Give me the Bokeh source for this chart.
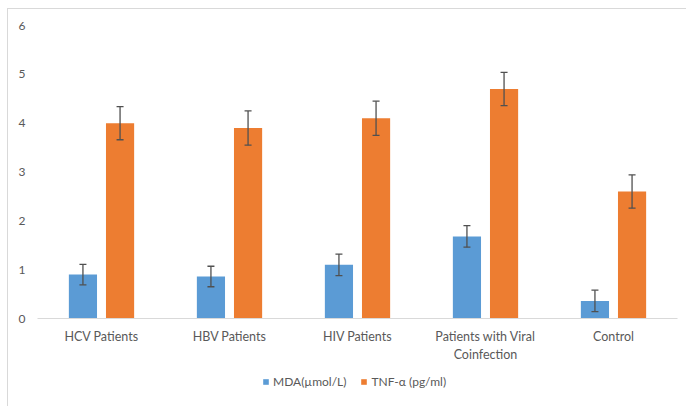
from bokeh.plotting import figure
from bokeh.models import ColumnDataSource, Whisker, Legend, LegendItem, FactorRange, Range1d
from bokeh.layouts import column
from bokeh.transform import dodge
from bokeh.embed import file_html
from bokeh.resources import INLINE

categories = ["HCV Patients", "HBV Patients", "HIV Patients",
              "Patients with Viral\nCoinfection", "Control"]
mda = [0.90, 0.86, 1.10, 1.68, 0.36]
mda_err = [0.21, 0.21, 0.22, 0.22, 0.22]
tnf = [4.00, 3.90, 4.10, 4.70, 2.60]
tnf_err = [0.34, 0.35, 0.35, 0.34, 0.34]
y_ticks = [0, 1, 2, 3, 4, 5, 6]
series_names = ["MDA(µmol/L)", "TNF-α (pg/ml)"]

BLUE = "#5B9BD5"
ORANGE = "#ED7D31"
TXT = "#595959"
FONT = "Lato"

src = ColumnDataSource(dict(
    cat=categories,
    mda=mda, mda_lo=[v - e for v, e in zip(mda, mda_err)], mda_hi=[v + e for v, e in zip(mda, mda_err)],
    tnf=tnf, tnf_lo=[v - e for v, e in zip(tnf, tnf_err)], tnf_hi=[v + e for v, e in zip(tnf, tnf_err)],
))

p = figure(width=678, height=357, x_range=FactorRange(*categories), y_range=(0, 6),
           output_backend="svg", toolbar_location=None,
           min_border_left=29, min_border_right=9, min_border_top=16, min_border_bottom=48)
p.outline_line_color = None
p.xgrid.grid_line_color = None
p.ygrid.grid_line_color = None
p.x_range.range_padding = 0
p.x_range.factor_padding = 0

off = 0.145
w = 0.22
p.vbar(x=dodge("cat", -off, range=p.x_range), top="mda", width=w, source=src,
       fill_color=BLUE, line_color=None)
p.vbar(x=dodge("cat", off, range=p.x_range), top="tnf", width=w, source=src,
       fill_color=ORANGE, line_color=None)

for key, o in (("mda", -off), ("tnf", off)):
    wk = Whisker(base=dodge("cat", o, range=p.x_range), lower=key + "_lo", upper=key + "_hi",
                 source=src, line_color="#505050", line_width=1.3, level="overlay")
    for h in (wk.upper_head, wk.lower_head):
        h.size = 7
        h.line_color = "#505050"
        h.line_width = 1.3
    p.add_layout(wk)

p.yaxis.ticker = y_ticks
p.yaxis.axis_line_color = None
p.yaxis.major_tick_line_color = None
p.yaxis.minor_tick_line_color = None
p.yaxis.major_label_standoff = 6
p.yaxis.major_label_text_color = TXT
p.yaxis.major_label_text_font = FONT
p.yaxis.major_label_text_font_size = "12px"

p.xaxis.axis_line_color = "#d9d9d9"
p.xaxis.major_tick_line_color = None
p.xaxis.minor_tick_line_color = None
p.xaxis.major_label_standoff = 4
p.xaxis.major_label_text_color = TXT
p.xaxis.major_label_text_font = FONT
p.xaxis.major_label_text_font_size = "12.5px"

# legend strip below the chart (hidden swatch renderers only feed the legend)
lf = figure(width=678, height=40, x_range=Range1d(0, 1), y_range=Range1d(0, 1),
            output_backend="svg", toolbar_location=None,
            min_border_left=0, min_border_right=0, min_border_top=0, min_border_bottom=0)
lf.outline_line_color = None
lf.axis.visible = False
lf.grid.visible = False
swatch = ColumnDataSource(dict(x=[0.5], top=[1.0]))
lr1 = lf.vbar(x="x", top="top", width=0.1, source=swatch, fill_color=BLUE, line_color=None)
lr2 = lf.vbar(x="x", top="top", width=0.1, source=swatch, fill_color=ORANGE, line_color=None)
lr1.visible = False
lr2.visible = False
legend = Legend(items=[LegendItem(label=series_names[0], renderers=[lr1]),
                       LegendItem(label=series_names[1], renderers=[lr2])],
                orientation="horizontal", location=(225, 17),
                glyph_width=7, glyph_height=7, label_text_font=FONT,
                label_text_font_size="12px", label_text_color=TXT,
                border_line_color=None, background_fill_alpha=0,
                inactive_fill_alpha=0,
                spacing=14, label_standoff=4, padding=0, margin=0)
lf.add_layout(legend, "center")

layout = column(p, lf, spacing=0)
layout.margin = (8, 0, 0, 7)
layout.styles = {"border-left": "1px solid #d9d9d9", "border-top": "1px solid #d9d9d9"}

open("out.html", "w").write(file_html(layout, INLINE))
